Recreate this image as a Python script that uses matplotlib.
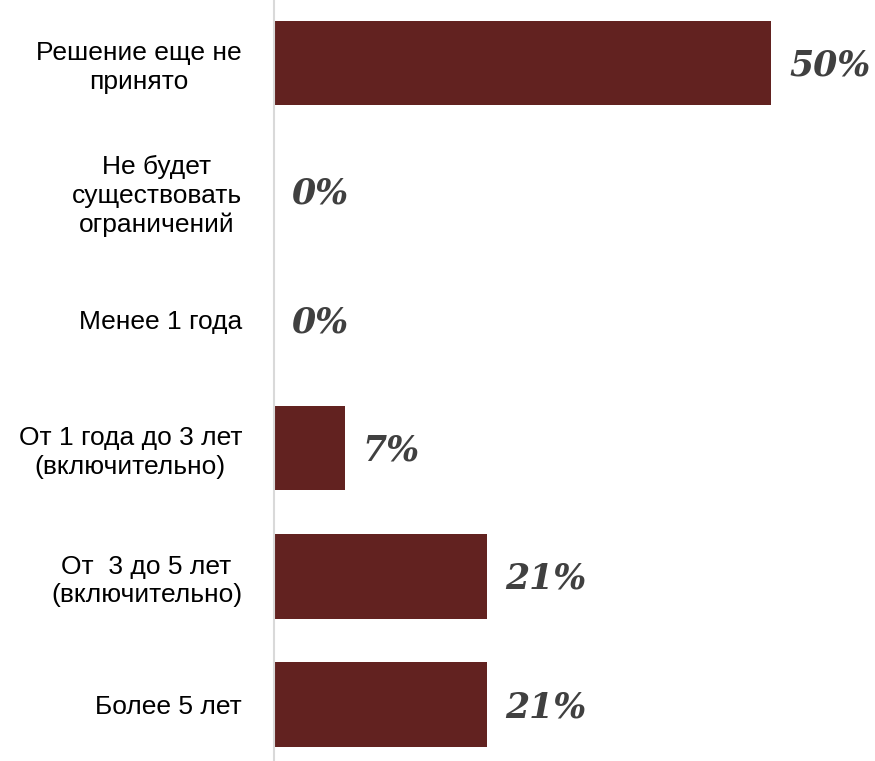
import matplotlib.pyplot as plt
import numpy as np

categories = ["Решение еще не\nпринято", "Не будет\nсуществовать\nограничений", "Менее 1 года",
              "От 1 года до 3 лет\n(включительно)", "От  3 до 5 лет\n(включительно)", "Более 5 лет"]
values = [50.0, 0.0, 0.0, 7.14, 21.43, 21.43]
value_labels = ["50%", "0%", "0%", "7%", "21%", "21%"]

bar_color = "#622220"
text_color = "#404040"

fig = plt.figure(figsize=(8.75, 7.61), dpi=100)
ax = fig.add_axes([274 / 875, 0, 601 / 875, 1])

y = np.arange(len(categories))
ax.barh(y, values, height=0.66, color=bar_color)

for yi, v, lab in zip(y, values, value_labels):
    ax.text(v + 1.8, yi + 0.02, lab, va="center", ha="left", fontsize=25,
            family="DejaVu Serif", fontweight="bold", fontstyle="italic", color=text_color)

ax.set_xlim(0, 601 / 9.94)
ax.set_ylim(5.44, -0.49)
ax.set_yticks(y)
ax.set_yticklabels(categories, fontsize=19, family="Liberation Sans", color="#000000",
                   multialignment="center", linespacing=1.25)
ax.tick_params(axis="y", length=0, pad=23)
ax.set_xticks([])

for s in ["top", "right", "bottom"]:
    ax.spines[s].set_visible(False)
ax.spines["left"].set_color("#d9d9d9")
ax.spines["left"].set_linewidth(1.5)

fig.savefig("out.png", dpi=100)
